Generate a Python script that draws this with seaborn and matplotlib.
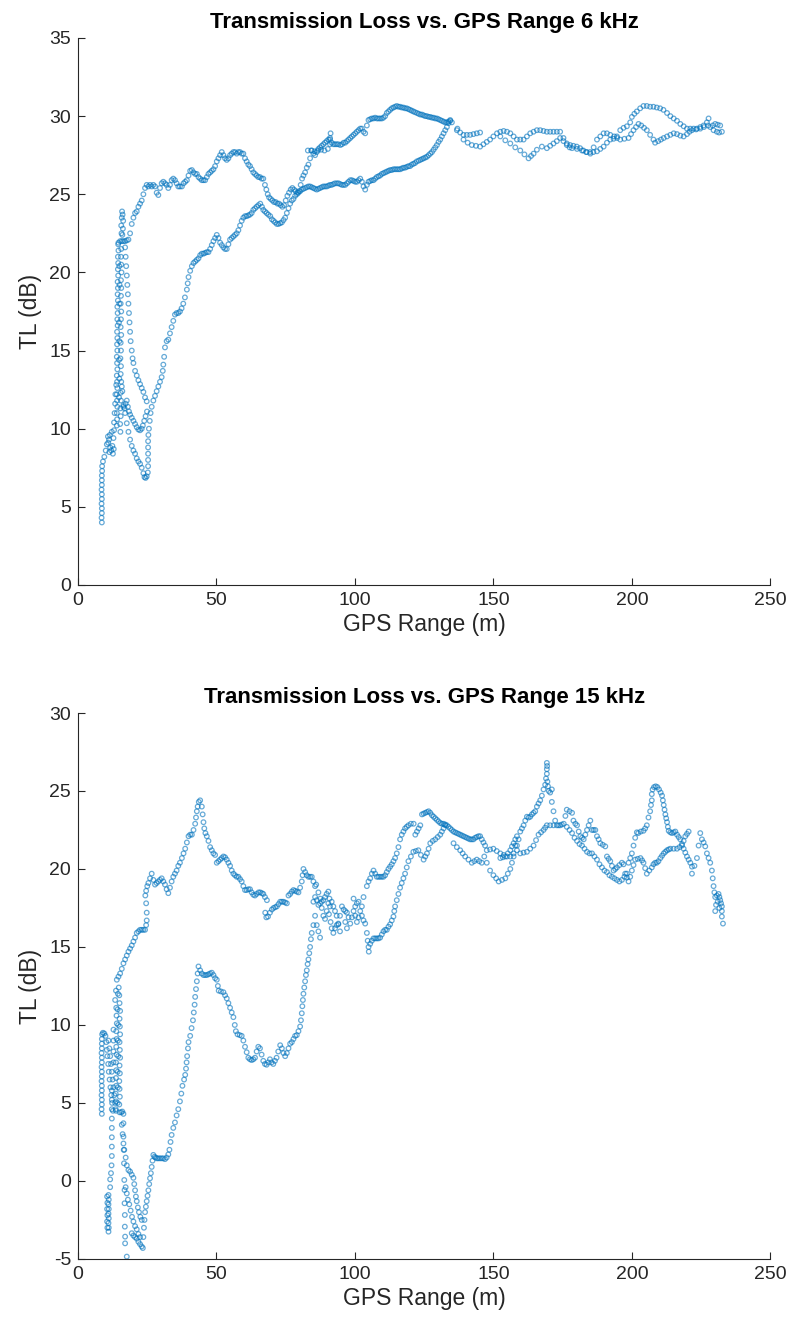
import matplotlib
matplotlib.use("Agg")
import matplotlib.pyplot as plt
import seaborn as sns
import pandas as pd

# ---------------------------------------------------------------
# 6 kHz transmission loss, (GPS range m, TL dB) along the track
# ---------------------------------------------------------------
k6_start = [(8.6, 4.0), (8.5, 4.3), (8.6, 4.6), (8.6, 4.9), (8.5, 5.2), (8.6, 5.5),
            (8.6, 5.8), (8.5, 6.1), (8.6, 6.4), (8.6, 6.7), (8.6, 7.0), (8.7, 7.3),
            (8.7, 7.6), (9.0, 7.9), (9.5, 8.2), (10.0, 8.6), (10.4, 9.0), (10.8, 9.5),
            (11.2, 9.3), (11.6, 8.8), (12.0, 8.6), (12.4, 8.9), (12.8, 9.4), (12.2, 9.8),
            (11.5, 9.6), (10.9, 9.1), (11.3, 8.5), (12.6, 8.4), (12.9, 8.7), (13.0, 9.9),
            (13.0, 10.4), (13.2, 11.0), (13.4, 11.6), (13.5, 12.2), (13.8, 12.8)]

k6_column_a = [(14.0, 10.2), (14.1, 10.6), (14.0, 11.0), (14.2, 11.4), (14.1, 11.8),
               (14.0, 12.2), (14.2, 12.6), (14.1, 13.0), (14.0, 13.4), (14.2, 13.8),
               (14.1, 14.2), (14.0, 14.6), (14.2, 15.0), (14.1, 15.4), (14.2, 15.8),
               (14.1, 16.2), (14.3, 16.6), (14.2, 17.0), (14.3, 17.4), (14.2, 17.8),
               (14.4, 18.2), (14.3, 18.6), (14.4, 19.0), (14.3, 19.4), (14.5, 19.8),
               (14.4, 20.2), (14.5, 20.6), (14.4, 21.0), (14.6, 21.4), (14.5, 21.8)]

k6_column_b = [(15.3, 9.8), (15.2, 10.3), (15.4, 10.8), (15.3, 11.3), (15.5, 11.8),
               (15.4, 12.3), (15.6, 13.0), (15.4, 13.5), (15.5, 14.0), (15.3, 14.5),
               (15.5, 15.0), (15.4, 15.5), (15.6, 16.0), (15.4, 16.5), (15.5, 17.0),
               (15.6, 17.5), (15.4, 18.0), (15.5, 18.5), (15.6, 19.0), (15.5, 19.5),
               (15.7, 20.0), (15.6, 20.5), (15.5, 21.0), (15.6, 21.5), (15.7, 22.5),
               (15.6, 23.0), (15.8, 23.5), (15.9, 23.9), (16.1, 23.7), (16.3, 23.3),
               (16.2, 22.8), (16.0, 22.4), (14.8, 12.0), (14.9, 13.2), (14.8, 14.4),
               (14.9, 15.6), (14.8, 16.8), (14.9, 18.0), (15.0, 19.2), (14.9, 20.4)]

k6_upper = [(14.6, 21.9), (15.2, 22.0), (15.8, 22.0), (16.4, 22.0), (17.0, 22.0), (17.6, 22.05),
            (18.2, 22.1), (18.8, 22.5), (19.4, 23.1), (20.0, 23.5), (20.6, 23.8), (21.2, 23.9),
            (21.8, 24.2), (22.4, 24.4), (23.0, 24.6), (23.6, 25.0), (24.2, 25.4), (24.8, 25.6),
            (25.4, 25.5), (26.0, 25.6), (26.6, 25.5), (27.2, 25.6), (27.8, 25.5), (28.4, 25.1),
            (29.0, 24.95), (29.6, 25.4), (30.2, 25.7), (30.8, 25.8), (31.4, 25.7), (32.0, 25.6),
            (32.6, 25.4), (33.2, 25.6), (33.8, 25.9), (34.4, 26.0), (35.0, 25.9), (35.6, 25.7),
            (36.2, 25.5), (36.8, 25.5), (37.5, 25.5), (38.1, 25.7), (38.7, 25.8), (39.3, 25.9),
            (39.9, 26.2), (40.5, 26.5), (41.1, 26.55), (41.7, 26.4), (42.3, 26.3), (42.9, 26.3),
            (43.5, 26.1), (44.1, 26.0), (44.7, 25.9), (45.3, 25.9), (45.9, 25.9), (46.5, 26.1),
            (47.1, 26.3), (47.7, 26.4), (48.3, 26.5), (48.9, 26.6), (49.5, 26.8), (50.1, 27.1),
            (50.7, 27.3), (51.3, 27.5), (51.9, 27.7), (52.5, 27.5), (53.1, 27.3), (53.7, 27.2),
            (54.3, 27.3), (54.9, 27.5), (55.5, 27.6), (56.1, 27.7), (56.7, 27.7), (57.3, 27.6),
            (57.9, 27.7), (58.5, 27.7), (59.1, 27.6), (59.7, 27.6), (60.3, 27.3), (60.9, 27.1),
            (61.5, 26.9), (62.1, 26.8), (62.7, 26.6), (63.3, 26.4), (63.9, 26.3), (64.5, 26.2),
            (65.1, 26.1), (65.7, 26.1), (66.3, 26.0), (66.9, 26.0), (67.5, 25.6), (68.0, 25.3),
            (68.5, 25.0), (69.0, 24.8), (69.6, 24.7), (70.2, 24.6), (70.8, 24.5), (71.4, 24.5),
            (72.0, 24.4), (72.6, 24.4), (73.2, 24.3), (73.8, 24.2), (74.4, 24.3), (75.0, 24.6),
            (75.6, 24.9), (76.2, 25.1), (76.8, 25.3), (77.4, 25.4), (78.0, 25.3), (78.6, 25.2),
            (79.2, 25.1), (79.8, 25.2), (80.4, 25.6), (80.9, 26.0), (81.4, 26.2), (82.0, 26.4),
            (82.6, 26.7), (83.2, 26.9), (83.8, 27.3), (84.4, 27.8), (85.0, 27.6), (85.6, 27.5),
            (86.2, 27.7), (86.8, 27.9), (87.4, 28.0), (88.0, 28.1), (88.6, 28.2), (89.2, 28.3),
            (89.8, 28.4), (90.4, 28.5), (91.0, 28.5), (91.6, 28.3), (92.2, 28.2), (92.8, 28.2),
            (93.4, 28.2), (94.0, 28.2), (94.7, 28.15), (95.3, 28.2), (95.9, 28.3), (96.5, 28.3),
            (97.1, 28.4), (97.7, 28.5), (98.3, 28.6), (98.9, 28.7), (99.5, 28.8), (100.1, 28.9),
            (100.7, 29.0), (101.3, 29.1), (101.9, 29.2), (102.5, 29.2), (103.1, 29.0), (103.7, 28.9),
            (104.3, 29.4), (104.9, 29.75), (105.5, 29.8), (106.1, 29.85), (106.7, 29.85), (107.3, 29.9),
            (107.9, 29.85), (108.5, 29.85), (109.1, 29.85), (109.7, 29.85), (110.3, 29.9), (110.9, 30.0),
            (111.5, 30.2), (112.1, 30.3), (112.7, 30.4), (113.3, 30.5), (113.9, 30.55), (114.5, 30.6),
            (115.1, 30.65), (115.7, 30.6), (116.3, 30.6), (116.9, 30.55), (117.5, 30.55), (118.1, 30.5),
            (118.7, 30.5), (119.3, 30.45), (119.9, 30.4), (120.5, 30.35), (121.1, 30.3), (121.7, 30.25),
            (122.4, 30.2), (123.0, 30.15), (123.6, 30.1), (124.2, 30.1), (124.8, 30.05), (125.4, 30.0),
            (126.0, 30.0), (126.6, 29.95), (127.2, 29.95), (127.8, 29.9), (128.4, 29.9), (129.0, 29.85),
            (129.6, 29.85), (130.2, 29.8), (130.8, 29.75), (131.4, 29.7), (132.0, 29.65), (132.6, 29.6),
            (133.2, 29.6), (133.8, 29.65), (134.4, 29.7), (135.0, 29.6)]

k6_crossing = [(83.0, 27.8), (84.2, 27.8), (85.4, 27.75), (86.6, 27.8), (87.8, 27.85), (89.0, 27.8),
               (90.2, 27.9), (91.0, 28.2), (91.0, 28.6), (91.2, 28.9)]

k6_dip = [(17.0, 21.6), (17.2, 21.0), (17.4, 20.4), (17.6, 19.8), (17.8, 19.2), (18.0, 18.6),
          (18.2, 18.0), (18.4, 17.4), (18.6, 16.8), (18.8, 16.2), (19.0, 15.6), (19.4, 15.0),
          (19.7, 14.5), (20.0, 14.2), (20.6, 13.7), (21.2, 13.4), (21.8, 13.1), (22.4, 12.85),
          (23.0, 12.6), (23.6, 12.35), (24.2, 12.0), (24.8, 11.75)]

k6_inner_v = [(15.8, 12.7), (16.0, 12.4), (16.4, 11.5), (16.8, 11.3), (17.2, 11.6), (17.6, 11.8),
              (18.0, 11.4), (18.4, 11.1), (18.8, 10.9), (19.4, 10.7), (20.0, 10.5), (20.6, 10.3),
              (21.2, 10.1), (21.8, 9.95), (22.4, 9.9), (23.0, 10.0), (23.4, 10.2), (23.9, 10.5),
              (24.4, 10.8), (24.9, 11.1)]

k6_lower = [(16.4, 11.4), (17.0, 11.0), (17.6, 10.35), (18.2, 9.8), (18.8, 9.3), (19.4, 8.9),
            (20.0, 8.6), (20.6, 8.4), (21.2, 8.1), (21.8, 7.9), (22.4, 7.75), (23.0, 7.5),
            (23.6, 7.15), (24.0, 6.9), (24.4, 6.85), (24.8, 6.95), (25.2, 7.2), (25.3, 7.6),
            (25.3, 8.0), (25.3, 8.4), (25.3, 8.8), (25.3, 9.2), (25.4, 9.6), (25.6, 10.0),
            (25.9, 10.5), (26.2, 11.0), (26.6, 11.4), (27.2, 11.8), (27.8, 12.1), (28.4, 12.4),
            (29.0, 12.7), (29.6, 13.0), (30.2, 13.3), (30.6, 13.7), (30.8, 14.1), (31.1, 14.6),
            (31.4, 15.2), (32.0, 15.6), (32.6, 15.7), (33.2, 16.1), (33.8, 16.5), (34.4, 16.9),
            (35.0, 17.3), (35.6, 17.4), (36.2, 17.4), (36.8, 17.5), (37.4, 17.7), (38.0, 18.0),
            (38.6, 18.4), (39.3, 18.9), (39.6, 19.3), (39.9, 19.7), (40.5, 20.1), (41.1, 20.4),
            (41.7, 20.6), (42.3, 20.7), (42.9, 20.8), (43.5, 20.9), (44.1, 21.1), (44.7, 21.2),
            (45.3, 21.2), (45.9, 21.25), (46.5, 21.3), (47.1, 21.3), (47.7, 21.5), (48.3, 21.75),
            (48.9, 22.0), (49.5, 22.2), (50.1, 22.4), (50.7, 22.2), (51.3, 21.9), (51.9, 21.75),
            (52.5, 21.6), (53.1, 21.5), (53.7, 21.5), (54.3, 21.8), (54.9, 22.1), (55.5, 22.2),
            (56.1, 22.3), (56.7, 22.4), (57.3, 22.5), (57.9, 22.7), (58.5, 23.0), (59.1, 23.3),
            (59.7, 23.5), (60.3, 23.6), (60.9, 23.6), (61.5, 23.65), (62.1, 23.7), (62.7, 23.8),
            (63.3, 24.0), (63.9, 24.1), (64.5, 24.2), (65.1, 24.3), (65.8, 24.4), (66.4, 24.2),
            (66.9, 24.0), (67.5, 23.9), (68.1, 23.8), (68.7, 23.7), (69.4, 23.6), (70.0, 23.4),
            (70.6, 23.3), (71.2, 23.2), (71.8, 23.1), (72.4, 23.1), (73.0, 23.15), (73.6, 23.2),
            (74.2, 23.35), (74.8, 23.5), (75.4, 23.8), (76.0, 24.1), (76.6, 24.4), (77.2, 24.6),
            (77.8, 24.7), (78.4, 24.9), (79.0, 25.0), (79.6, 25.1), (80.2, 25.2), (80.8, 25.3),
            (81.4, 25.35), (82.0, 25.4), (82.6, 25.45), (83.2, 25.5), (83.8, 25.5), (84.4, 25.45),
            (85.0, 25.4), (85.6, 25.35), (86.2, 25.3), (86.8, 25.35), (87.4, 25.4), (88.0, 25.45),
            (88.6, 25.5), (89.2, 25.5), (89.8, 25.5), (90.4, 25.55), (91.0, 25.6), (91.6, 25.6),
            (92.2, 25.65), (92.8, 25.7), (93.5, 25.7), (94.1, 25.7), (94.7, 25.65), (95.3, 25.6),
            (95.9, 25.6), (96.5, 25.6), (97.1, 25.7), (97.7, 25.8), (98.3, 25.9), (98.9, 25.9),
            (99.5, 25.85), (100.1, 25.8), (100.7, 25.8), (101.3, 25.9), (101.9, 26.0), (102.5, 25.8),
            (103.1, 25.5), (103.7, 25.3), (104.3, 25.6), (104.9, 25.8), (105.5, 25.85), (106.1, 25.9),
            (106.7, 25.9), (107.3, 26.0), (107.9, 26.1), (108.5, 26.15), (109.1, 26.2), (109.7, 26.3),
            (110.3, 26.35), (110.9, 26.4), (111.5, 26.45), (112.1, 26.5), (112.7, 26.55), (113.3, 26.55),
            (113.9, 26.6), (114.5, 26.6), (115.1, 26.6), (115.7, 26.6), (116.3, 26.6), (116.9, 26.65),
            (117.5, 26.7), (118.1, 26.7), (118.7, 26.75), (119.3, 26.8), (119.9, 26.8), (120.5, 26.9),
            (121.1, 26.95), (121.7, 27.0), (122.3, 27.1), (123.0, 27.15), (123.6, 27.2), (124.2, 27.25),
            (124.8, 27.3), (125.4, 27.35), (126.0, 27.4), (126.6, 27.5), (127.2, 27.6), (127.8, 27.7),
            (128.4, 27.85), (129.0, 28.0), (129.6, 28.15), (130.2, 28.35), (130.8, 28.5), (131.4, 28.7),
            (132.0, 28.9), (132.6, 29.1), (133.2, 29.3), (133.8, 29.55), (134.4, 29.75)]

k6_spur = [(136.8, 29.1), (138.0, 28.95), (139.2, 28.8), (140.4, 28.8), (141.6, 28.8),
           (142.8, 28.85), (144.0, 28.9), (145.2, 28.95)]

k6_loop_top = [(137.0, 29.2), (139.2, 28.5), (140.7, 28.3), (142.2, 28.15), (143.7, 28.1), (145.2, 28.05),
               (146.4, 28.2), (147.6, 28.35), (148.8, 28.5), (150.0, 28.7), (151.3, 28.9), (152.5, 29.0),
               (153.7, 29.05), (154.9, 29.0), (156.1, 28.9), (157.3, 28.7), (158.5, 28.5), (159.7, 28.5),
               (160.9, 28.5), (162.1, 28.7), (163.3, 28.9), (164.5, 29.0), (165.7, 29.1), (166.9, 29.1),
               (168.1, 29.05), (169.3, 29.0), (170.5, 29.0), (171.7, 29.0), (172.9, 29.0), (174.1, 29.0),
               (175.3, 28.6), (176.5, 28.25), (177.7, 28.15), (178.9, 28.1), (180.1, 28.05), (181.3, 27.95),
               (182.5, 27.8), (183.7, 27.7), (184.9, 27.7), (186.1, 27.7), (187.4, 27.75), (188.6, 27.9),
               (189.8, 28.05), (191.0, 28.3), (192.2, 28.5), (193.4, 28.55), (194.6, 28.7), (195.8, 29.1),
               (197.0, 29.25), (198.2, 29.35), (199.4, 29.6), (200.0, 29.95), (200.9, 30.15), (201.8, 30.3),
               (203.0, 30.5), (204.2, 30.65), (205.4, 30.65), (206.6, 30.6), (207.8, 30.6), (209.0, 30.55),
               (210.2, 30.5), (211.4, 30.4), (212.7, 30.2), (213.9, 30.0), (215.1, 29.85), (216.3, 29.7),
               (217.5, 29.5), (218.7, 29.35), (219.9, 29.2), (221.1, 29.2), (222.3, 29.2), (223.5, 29.2),
               (224.7, 29.3), (225.9, 29.4), (227.1, 29.6), (227.7, 29.85), (228.3, 29.3), (229.2, 29.4),
               (230.1, 29.5), (231.0, 29.45), (231.9, 29.4), (232.5, 29.0), (231.5, 28.95), (230.7, 29.0),
               (229.5, 29.1)]

k6_loop_bottom = [(152.5, 28.7), (154.3, 28.45), (156.1, 28.25), (157.9, 28.0), (159.7, 27.8), (161.2, 27.55),
                  (162.7, 27.3), (163.6, 27.45), (164.5, 27.6), (165.7, 27.85), (167.5, 28.05), (169.3, 27.95),
                  (170.5, 28.1), (171.7, 28.25), (172.9, 28.4), (174.1, 28.6), (175.3, 28.4), (176.5, 28.15),
                  (177.5, 28.0), (178.4, 27.95), (180.2, 27.9), (182.0, 27.8), (183.5, 27.7), (185.0, 27.6),
                  (186.2, 28.0), (187.4, 28.5), (188.6, 28.7), (189.8, 28.9), (191.0, 28.9), (192.2, 28.8),
                  (193.6, 28.7), (194.7, 28.6), (195.8, 28.5), (197.3, 28.55), (198.8, 28.6), (199.7, 28.85),
                  (200.6, 29.1), (201.5, 29.3), (202.4, 29.5), (203.4, 29.4), (204.4, 29.25), (205.4, 29.1),
                  (206.6, 28.8), (207.8, 28.5), (208.4, 28.3), (209.5, 28.4), (210.5, 28.5), (211.5, 28.6),
                  (212.7, 28.7), (213.9, 28.8), (215.1, 28.9), (216.3, 28.85), (217.5, 28.75), (218.7, 28.7),
                  (219.9, 28.85), (220.8, 29.0), (221.7, 29.1), (223.2, 29.15), (224.7, 29.2), (226.0, 29.3),
                  (227.5, 29.4)]

# ---------------------------------------------------------------
# 15 kHz transmission loss, (GPS range m, TL dB) along the track
# ---------------------------------------------------------------
k15_start = [(8.6, 4.3), (8.5, 4.6), (8.6, 4.9), (8.6, 5.2), (8.5, 5.5), (8.6, 5.8), (8.6, 6.1),
             (8.5, 6.4), (8.6, 6.7), (8.6, 7.0), (8.5, 7.3), (8.6, 7.6), (8.6, 7.9), (8.5, 8.2),
             (8.6, 8.5), (8.6, 8.8), (8.6, 9.1), (8.7, 9.4), (9.0, 9.5), (9.5, 9.45), (9.9, 9.3),
             (10.2, 8.9), (10.4, 8.4), (10.6, 8.0), (10.9, 7.5), (11.1, 7.0), (11.4, 6.5),
             (11.7, 6.0), (12.0, 5.5), (12.3, 5.0), (12.6, 4.5), (11.0, 9.0), (11.3, 8.5),
             (11.6, 8.0), (11.9, 7.5), (12.2, 7.0), (12.5, 6.5), (12.8, 6.0), (13.1, 5.5),
             (13.4, 5.0), (13.7, 4.5)]

k15_sparse_left = [(12.8, 9.7), (12.8, 9.0), (12.8, 8.3), (12.8, 7.6), (12.2, 5.8), (12.2, 5.2),
                   (12.2, 4.6), (12.2, 4.0), (12.2, 3.4), (12.2, 2.8), (12.2, 2.2), (12.2, 1.6),
                   (12.1, 1.0), (11.9, 0.5), (11.6, 0.1), (11.6, -0.4), (11.0, -0.9), (11.1, -1.2),
                   (11.0, -1.5), (11.1, -1.8), (11.0, -2.1), (11.1, -2.4), (11.0, -2.7), (11.1, -3.0),
                   (11.0, -3.25), (10.5, -1.0), (10.6, -1.4), (10.5, -1.8), (10.6, -2.2), (10.5, -2.6),
                   (10.6, -3.0)]

k15_column = [(13.6, 4.6), (13.7, 5.1), (13.6, 5.6), (13.8, 6.1), (13.7, 6.6), (13.8, 7.1),
              (13.7, 7.6), (13.9, 8.1), (13.8, 8.6), (13.9, 9.1), (13.8, 9.6), (14.0, 10.1),
              (13.9, 10.6), (13.8, 11.1), (15.0, 4.4), (14.9, 4.9), (15.1, 5.4), (15.0, 5.9),
              (14.9, 6.4), (15.1, 6.9), (15.0, 7.4), (15.2, 7.9), (15.1, 8.4), (15.0, 8.9),
              (15.2, 9.4), (15.1, 9.9), (15.0, 10.4), (15.2, 10.9), (15.0, 11.4), (14.9, 11.9),
              (14.7, 12.4), (14.3, 5.0), (14.4, 6.0), (14.3, 7.0), (14.5, 8.0), (14.4, 9.0),
              (14.5, 10.0), (14.3, 11.0), (14.4, 12.0), (15.6, 4.4), (16.0, 4.45), (16.4, 4.3)]

k15_sparse_drop = [(16.4, 3.7), (16.4, 2.84), (16.5, 1.99), (16.6, 1.13), (16.7, 0.06), (16.8, -0.58),
                   (16.8, -1.43), (16.9, -2.18), (16.9, -2.93), (17.0, -3.57), (17.0, -4.0), (17.6, -4.85)]

k15_trough = [(15.8, 3.6), (16.1, 3.0), (16.4, 2.4), (16.7, 2.0), (17.2, 1.5), (17.6, 1.0), (18.2, 0.7),
              (18.8, 0.6), (19.4, 0.4), (20.0, 0.2), (20.3, -0.2), (20.6, -0.6), (20.9, -1.0),
              (21.2, -1.3), (21.6, -1.7), (22.0, -2.0), (22.5, -2.3), (23.0, -2.5), (17.2, -0.4),
              (17.6, -0.8), (18.0, -1.2), (18.5, -1.5), (19.0, -1.9), (19.5, -2.3), (20.0, -2.6),
              (20.6, -2.9), (21.2, -3.1), (21.8, -3.4), (22.4, -3.6), (19.4, -3.35), (20.0, -3.5),
              (20.6, -3.6), (21.2, -3.7), (21.8, -3.9), (22.4, -4.05), (23.0, -4.2), (23.4, -4.3)]

k15_lower = [(23.6, -3.6), (23.8, -3.0), (24.0, -2.5), (24.2, -2.0), (24.5, -1.65), (24.8, -1.3),
             (25.1, -0.95), (25.4, -0.6), (25.7, -0.2), (26.0, 0.17), (26.3, 0.5), (26.6, 0.9),
             (26.9, 1.3), (27.2, 1.67), (27.6, 1.55), (28.0, 1.5), (28.5, 1.45), (29.0, 1.45),
             (29.6, 1.45), (30.2, 1.45), (30.8, 1.45), (31.4, 1.4), (32.0, 1.5), (32.6, 1.7),
             (33.0, 2.0), (33.4, 2.5), (33.8, 2.95), (34.4, 3.4), (35.0, 3.75), (35.6, 4.2),
             (36.2, 4.6), (36.8, 5.1), (37.3, 5.6), (37.7, 6.1), (38.3, 6.5), (38.7, 6.8),
             (39.0, 7.2), (39.2, 7.6), (39.4, 8.0), (39.7, 8.5), (39.9, 8.9), (40.5, 9.3),
             (41.0, 9.8), (41.5, 10.3), (41.8, 10.8), (42.1, 11.3), (42.3, 11.8), (42.6, 12.3),
             (42.9, 12.8), (43.2, 13.3), (43.5, 13.75), (44.1, 13.5), (44.7, 13.3), (45.3, 13.2),
             (45.9, 13.2), (46.5, 13.2), (47.1, 13.25), (47.7, 13.3), (48.3, 13.35), (48.9, 13.2),
             (49.5, 13.0), (50.1, 12.9), (50.5, 12.5), (50.8, 12.2), (51.6, 12.15), (52.5, 12.1),
             (53.1, 11.9), (53.7, 11.7), (54.3, 11.4), (54.9, 11.1), (55.5, 10.8), (56.1, 10.5),
             (56.6, 10.0), (57.0, 9.6), (57.6, 9.4), (58.4, 9.35), (59.1, 9.3), (59.7, 9.0),
             (60.3, 8.6), (60.9, 8.25), (61.5, 7.9), (62.1, 7.8), (62.7, 7.75), (63.3, 7.8),
             (63.9, 7.9), (64.5, 8.3), (65.1, 8.6), (65.7, 8.5), (66.3, 8.1), (66.9, 7.7),
             (67.5, 7.5), (68.1, 7.45), (68.7, 7.6), (69.3, 7.8), (69.9, 7.6), (70.5, 7.5),
             (71.1, 7.7), (71.7, 7.9), (72.3, 8.3), (73.0, 8.7), (73.6, 8.5), (74.2, 8.2),
             (74.8, 8.0), (75.4, 8.2), (76.0, 8.5), (76.6, 8.8), (77.2, 8.9), (77.8, 9.1),
             (78.4, 9.3), (79.0, 9.35), (79.6, 9.6), (80.2, 9.9), (80.5, 10.3), (80.8, 10.75),
             (81.0, 11.2), (81.2, 11.6), (81.4, 12.0), (81.7, 12.4), (82.0, 12.8), (82.3, 13.2),
             (82.6, 13.5), (82.9, 13.9), (83.2, 14.2), (83.5, 14.6), (83.8, 15.0), (84.1, 15.5),
             (84.4, 15.9), (85.0, 16.4)]

k15_upper = [(13.4, 11.6), (13.7, 12.2), (14.0, 12.9), (14.6, 13.1), (15.2, 13.3), (15.8, 13.6),
             (16.4, 13.95), (17.0, 14.2), (17.6, 14.45), (18.2, 14.7), (18.8, 14.9), (19.4, 15.1),
             (20.0, 15.35), (20.6, 15.6), (21.2, 15.9), (21.8, 16.0), (22.4, 16.1), (23.0, 16.1),
             (23.6, 16.1), (24.2, 16.1), (24.6, 16.4), (24.8, 16.7), (24.8, 17.2), (24.6, 17.8),
             (24.3, 18.3), (24.6, 18.6), (25.0, 18.9), (25.4, 19.1), (26.0, 19.4), (26.6, 19.7),
             (27.2, 19.3), (27.8, 19.0), (28.4, 19.1), (29.0, 19.2), (29.6, 19.3), (30.2, 19.4),
             (30.8, 19.2), (31.4, 19.0), (32.0, 18.7), (32.6, 18.45), (33.2, 18.8), (33.8, 19.2),
             (34.4, 19.5), (35.0, 19.7), (35.6, 19.9), (36.2, 20.2), (36.8, 20.4), (37.5, 20.7),
             (38.1, 21.0), (38.7, 21.3), (39.3, 21.7), (39.9, 22.1), (40.5, 22.2), (41.1, 22.2),
             (41.7, 22.5), (42.3, 22.9), (42.6, 23.3), (42.9, 23.7), (43.2, 24.0), (43.6, 24.3),
             (44.1, 24.4), (44.7, 24.0), (45.0, 23.5), (45.3, 23.0), (45.6, 22.6), (46.0, 22.3),
             (46.5, 22.1), (47.1, 21.8), (47.7, 21.4), (48.3, 21.2), (48.9, 21.0), (49.5, 20.9),
             (50.1, 20.4), (50.7, 20.5), (51.3, 20.6), (51.9, 20.7), (52.5, 20.8), (53.1, 20.75),
             (53.7, 20.6), (54.3, 20.4), (54.9, 20.2), (55.5, 19.9), (56.1, 19.7), (56.7, 19.6),
             (57.3, 19.5), (57.9, 19.5), (58.5, 19.35), (59.1, 19.2), (59.7, 18.9), (60.3, 18.65),
             (60.9, 18.65), (61.5, 18.7), (62.1, 18.7), (62.7, 18.5), (63.3, 18.35), (63.9, 18.3),
             (64.5, 18.4), (65.2, 18.5), (65.8, 18.5), (66.4, 18.45), (66.9, 18.4), (67.5, 18.2),
             (68.2, 18.0), (67.6, 17.2), (68.0, 16.9), (68.6, 16.95), (69.3, 17.2), (70.0, 17.4),
             (70.6, 17.5), (71.2, 17.55), (71.8, 17.6), (72.4, 17.75), (73.0, 17.9), (73.6, 17.9),
             (74.2, 17.9), (74.8, 17.85), (75.4, 17.8), (76.0, 18.3), (76.6, 18.4), (77.2, 18.55),
             (77.8, 18.65), (78.4, 18.6), (79.0, 18.55), (79.6, 18.5), (80.2, 18.8), (80.8, 19.2),
             (81.1, 19.6), (81.4, 20.0), (82.0, 19.8), (82.6, 19.6), (83.2, 19.5), (83.8, 19.5),
             (84.4, 19.5), (85.0, 19.2), (85.6, 18.9)]

k15_tangle = [(85.0, 17.9), (85.6, 18.2), (86.2, 18.0), (86.8, 17.7), (87.4, 17.8), (88.0, 17.9),
              (88.6, 18.0), (89.2, 18.2), (89.8, 18.4), (90.4, 18.55), (90.8, 18.1), (91.0, 17.6),
              (90.6, 17.1), (91.2, 16.6), (91.6, 16.2), (92.2, 15.9), (92.8, 16.2), (93.4, 16.4),
              (94.0, 16.5), (94.6, 17.0), (95.3, 17.6), (95.9, 17.4), (96.5, 17.3), (97.1, 17.2),
              (97.7, 16.9), (98.3, 16.5), (98.9, 16.9), (99.5, 17.3), (100.1, 17.6), (100.7, 17.8),
              (101.3, 17.9), (101.9, 17.3), (102.5, 17.0), (103.1, 16.7), (103.7, 16.5), (104.3, 15.9),
              (104.6, 15.4), (104.9, 15.0), (105.0, 14.7), (86.0, 19.0), (86.8, 18.5), (87.5, 18.1),
              (88.0, 17.5), (88.6, 17.0), (89.2, 16.8), (89.8, 17.3), (90.4, 17.8), (91.6, 17.9),
              (92.2, 17.6), (92.8, 17.3), (93.4, 17.0), (94.0, 16.45), (94.6, 16.0), (85.6, 17.0),
              (86.2, 16.4), (86.8, 16.0), (87.4, 15.6), (96.5, 16.6), (97.1, 16.2), (99.5, 18.1),
              (100.1, 17.0), (100.7, 16.6), (101.3, 16.9), (102.5, 17.6), (103.1, 18.2), (104.3, 18.9),
              (104.9, 19.2)]

k15_mid_low = [(105.5, 15.2), (106.1, 15.4), (106.7, 15.55), (107.3, 15.55), (107.9, 15.55), (108.5, 15.55),
               (109.1, 15.6), (109.7, 15.8), (110.3, 16.0), (110.9, 16.1), (111.5, 16.1), (112.1, 16.3),
               (112.7, 16.45), (113.3, 16.7), (113.9, 16.95), (114.2, 17.3), (114.5, 17.6), (115.1, 18.0),
               (115.7, 18.4), (116.3, 18.8), (116.9, 19.1), (117.5, 19.4), (118.1, 19.7), (118.7, 20.1),
               (119.3, 20.5), (120.2, 20.8), (121.1, 21.1), (122.0, 21.15), (122.9, 21.2), (123.8, 20.9),
               (124.8, 20.6), (125.4, 20.8), (126.0, 21.0), (126.6, 21.3), (127.2, 21.65), (128.1, 21.8),
               (129.0, 21.9), (129.9, 22.05), (130.8, 22.2), (131.4, 22.4), (132.0, 22.6), (132.6, 22.8)]

k15_mid_high = [(105.5, 19.4), (106.1, 19.7), (106.7, 19.9), (107.3, 19.7), (107.9, 19.5), (108.5, 19.5),
                (109.1, 19.5), (109.7, 19.5), (110.3, 19.5), (110.9, 19.6), (111.5, 19.8), (112.1, 20.0),
                (112.7, 20.15), (113.3, 20.3), (113.9, 20.5), (114.5, 20.7), (115.1, 21.0), (115.7, 21.4),
                (116.3, 21.9), (116.9, 22.2), (117.5, 22.4), (118.1, 22.6), (118.7, 22.7), (119.3, 22.8),
                (120.2, 22.9), (121.2, 22.9), (121.8, 22.2), (122.4, 22.4), (123.0, 22.6), (123.6, 22.8),
                (124.2, 23.5), (124.8, 23.55), (125.4, 23.6), (126.0, 23.65), (126.6, 23.7), (127.2, 23.6),
                (127.8, 23.45), (128.4, 23.35), (129.0, 23.25), (129.6, 23.15), (130.2, 23.05), (130.8, 22.95),
                (131.4, 22.9), (132.0, 22.9), (132.6, 22.85), (133.2, 22.8), (133.8, 22.7), (134.4, 22.6),
                (135.0, 22.5), (135.6, 22.4), (136.2, 22.35), (136.8, 22.3), (137.4, 22.25), (138.0, 22.2),
                (138.6, 22.15), (139.2, 22.1), (139.8, 22.05), (140.4, 22.0), (141.0, 21.95), (141.6, 21.9),
                (142.2, 21.9), (142.8, 21.9), (143.4, 22.0), (144.0, 22.05), (144.6, 22.1), (145.2, 22.1)]

k15_band = [(135.6, 21.65), (136.8, 21.4), (138.0, 21.2), (138.9, 21.0), (139.8, 20.8), (141.0, 20.6),
            (142.2, 20.4), (143.1, 20.5), (144.0, 20.6), (144.9, 20.5), (145.8, 20.4), (146.7, 20.8),
            (147.6, 21.2), (148.8, 21.25), (150.0, 21.3), (151.2, 21.15), (152.5, 21.0), (153.7, 20.9),
            (154.9, 20.8), (156.1, 20.8), (157.3, 20.8), (147.6, 20.4), (148.8, 19.9), (150.0, 19.6),
            (151.0, 19.4), (151.9, 19.2), (153.1, 19.3), (154.3, 19.4), (155.2, 19.7), (156.1, 20.0),
            (156.7, 20.4), (157.3, 21.0), (157.9, 21.5), (158.5, 21.5), (159.1, 21.9), (159.7, 22.4),
            (160.3, 22.6), (160.9, 22.8), (161.5, 23.1), (162.1, 23.35)]

k15_spike = [(145.8, 21.9), (146.4, 21.7), (147.0, 21.5), (152.5, 20.7), (153.4, 20.75), (154.3, 20.8),
             (155.2, 21.0), (156.1, 21.2), (156.7, 21.45), (157.3, 21.65), (157.9, 21.9), (158.5, 22.1),
             (162.7, 23.3), (163.3, 23.35), (163.9, 23.5), (164.5, 23.6), (165.1, 23.7), (165.7, 24.0),
             (166.3, 24.2), (166.9, 24.4), (167.5, 24.7), (168.1, 25.1), (168.7, 25.4), (169.0, 25.8),
             (169.3, 26.1), (169.3, 26.4), (169.3, 26.8), (169.4, 26.6), (169.5, 25.6), (169.7, 25.3),
             (170.0, 25.0), (170.5, 24.9), (171.1, 25.1), (171.1, 24.3), (171.7, 23.7), (172.3, 23.1),
             (173.5, 22.8), (174.7, 22.85), (175.4, 22.9), (176.0, 23.4), (176.5, 23.8), (177.5, 23.7),
             (178.4, 23.6), (178.9, 23.1), (179.6, 22.9), (180.2, 22.8), (180.8, 22.4), (181.4, 22.1),
             (182.0, 22.0), (182.6, 21.9), (183.2, 22.2), (183.8, 22.5), (184.4, 22.8), (185.0, 23.1),
             (185.6, 22.5), (186.2, 22.5), (186.8, 22.5), (187.4, 22.1), (188.0, 21.9), (188.6, 21.65),
             (189.5, 21.55), (190.4, 21.45), (191.0, 20.8), (191.6, 20.65), (192.2, 20.5), (192.8, 20.2),
             (193.4, 19.9), (194.0, 20.0), (194.6, 20.1), (195.5, 20.25), (196.4, 20.4), (197.0, 20.3),
             (197.6, 19.7), (198.2, 19.45), (198.8, 19.2), (199.4, 19.5), (200.0, 19.9), (200.6, 20.25),
             (201.2, 20.6), (202.1, 20.65), (203.1, 20.7), (203.7, 20.55), (204.2, 20.4), (204.8, 20.05),
             (205.4, 19.7), (206.3, 19.9), (207.2, 20.1), (207.8, 20.3), (208.4, 20.4), (209.0, 20.4),
             (209.6, 20.5), (210.3, 20.7), (210.9, 20.85), (211.5, 21.0), (212.1, 21.1), (212.7, 21.2),
             (213.3, 21.25), (213.9, 21.3), (215.1, 21.3), (216.3, 21.3), (217.2, 21.4), (218.1, 21.5),
             (218.7, 21.8), (219.3, 22.1), (219.9, 22.25), (220.5, 22.4)]

k15_return = [(158.5, 21.2), (159.7, 21.0), (160.9, 21.05), (162.1, 21.1), (163.3, 21.3), (164.5, 21.5),
              (165.4, 21.85), (166.3, 22.2), (167.2, 22.35), (168.1, 22.5), (168.7, 22.65), (169.3, 22.8),
              (170.5, 22.8), (171.7, 22.8), (172.9, 22.8), (174.1, 22.8), (176.5, 22.7), (177.5, 22.5),
              (178.4, 22.3), (179.3, 22.0), (180.2, 21.8), (181.1, 21.6), (182.0, 21.5), (182.9, 21.3),
              (183.8, 21.1), (184.7, 21.0), (185.6, 21.0), (186.5, 20.8), (187.4, 20.6), (188.3, 20.3),
              (189.2, 20.1), (190.1, 19.9), (191.0, 19.8), (191.9, 19.6), (192.8, 19.5), (193.7, 19.4),
              (194.6, 19.3), (195.5, 19.2), (196.4, 19.3), (197.3, 19.5), (198.2, 19.7)]

k15_tail = [(198.8, 20.4), (199.4, 20.7), (200.0, 21.0), (200.6, 21.5), (201.2, 22.0), (201.8, 22.35),
            (202.3, 22.3), (203.2, 22.4), (204.2, 22.45), (204.8, 22.6), (205.4, 22.8), (206.0, 23.3),
            (206.6, 23.7), (206.9, 24.1), (207.2, 24.4), (207.2, 24.8), (207.5, 25.1), (208.0, 25.25),
            (208.6, 25.3), (209.2, 25.25), (209.8, 25.1), (210.4, 24.9), (210.9, 24.7), (211.2, 24.4),
            (211.5, 24.1), (211.8, 23.8), (212.1, 23.5), (212.4, 23.25), (212.7, 23.0), (213.0, 22.7),
            (213.3, 22.45), (213.9, 22.35), (214.5, 22.3), (215.1, 22.35), (215.7, 22.4), (216.3, 22.2),
            (216.9, 22.05), (217.5, 21.9), (218.1, 21.6), (218.7, 21.3), (219.3, 21.05), (219.9, 20.8),
            (220.5, 20.6), (221.1, 20.4), (221.7, 20.15), (221.7, 19.7), (222.6, 20.2), (223.5, 20.7),
            (224.1, 21.5), (224.7, 22.3), (225.3, 21.9), (225.9, 21.7), (226.5, 21.45), (227.1, 21.0),
            (227.7, 20.7), (228.3, 20.4), (228.9, 19.9), (229.2, 19.4), (229.5, 18.9), (229.8, 18.5),
            (230.1, 18.2), (230.7, 18.3), (231.3, 18.4), (231.6, 18.2), (231.9, 18.0), (232.2, 17.8),
            (232.5, 17.6), (232.5, 17.3), (232.5, 16.95), (232.9, 16.5), (230.1, 17.3), (230.4, 17.7),
            (231.0, 17.9), (231.6, 17.5)]

panel_titles = ["Transmission Loss vs. GPS Range 6 kHz", "Transmission Loss vs. GPS Range 15 kHz"]
x_label = "GPS Range (m)"
y_label = "TL (dB)"
x_ticks = [0, 50, 100, 150, 200, 250]
y_ticks_6k = [0, 5, 10, 15, 20, 25, 30, 35]
y_ticks_15k = [-5, 0, 5, 10, 15, 20, 25, 30]

segments_6k = [k6_start, k6_column_a, k6_column_b, k6_upper, k6_crossing, k6_dip, k6_inner_v,
               k6_lower, k6_spur, k6_loop_top, k6_loop_bottom]
segments_15k = [k15_start, k15_sparse_left, k15_column, k15_sparse_drop, k15_trough, k15_lower,
                k15_upper, k15_tangle, k15_mid_low, k15_mid_high, k15_band, k15_spike, k15_return,
                k15_tail]


def to_frame(segments):
    rows = [pt for seg in segments for pt in seg]
    return pd.DataFrame(rows, columns=["range_m", "tl_db"])


df6 = to_frame(segments_6k)
df15 = to_frame(segments_15k)

sns.set_theme(style="ticks")
plt.rcParams["font.family"] = ["Liberation Sans", "DejaVu Sans"]
plt.rcParams["axes.unicode_minus"] = False

blue = "#0072BD"
axis_grey = "#262626"

fig = plt.figure(figsize=(7.93, 13.28), dpi=100)
ax_top = fig.add_axes([0.0984, 0.5595, 0.873, 0.4119])
ax_bot = fig.add_axes([0.0984, 0.0520, 0.873, 0.4111])

for ax, df, title, yticks in [(ax_top, df6, panel_titles[0], y_ticks_6k),
                              (ax_bot, df15, panel_titles[1], y_ticks_15k)]:
    sns.scatterplot(data=df, x="range_m", y="tl_db", ax=ax, marker="o", s=11,
                    facecolor="none", edgecolor=blue, linewidth=0.9, alpha=0.6, legend=False)
    ax.set_xlim(0, 250)
    ax.set_ylim(yticks[0], yticks[-1])
    ax.set_xticks(x_ticks)
    ax.set_yticks(yticks)
    ax.set_xlabel(x_label, fontsize=16.5, color=axis_grey, labelpad=3)
    ax.set_ylabel(y_label, fontsize=16.5, color=axis_grey, labelpad=5)
    ax.set_title(title, fontsize=16, fontweight="bold", color="black", pad=7)
    for side in ("top", "right"):
        ax.spines[side].set_visible(False)
    for side in ("left", "bottom"):
        ax.spines[side].set_color(axis_grey)
        ax.spines[side].set_linewidth(0.8)
    ax.tick_params(direction="in", length=5, width=0.8, colors=axis_grey,
                   labelsize=14, pad=5)

fig.savefig("out.png", dpi=100)
